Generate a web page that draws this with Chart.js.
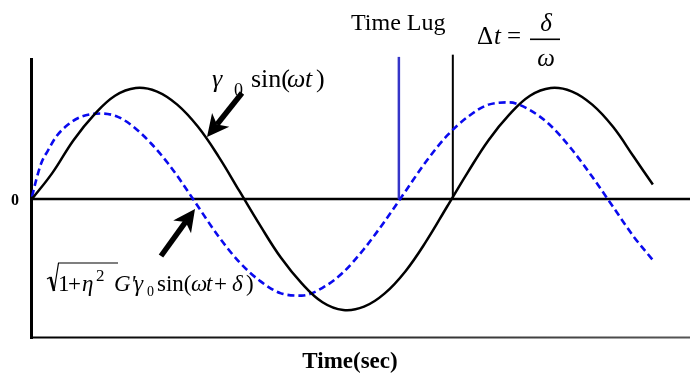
<!DOCTYPE html>
<html>
<head>
<meta charset="utf-8">
<script src="https://cdn.jsdelivr.net/npm/chart.js@4/dist/chart.umd.min.js"></script>
<style>
html,body{margin:0;padding:0;background:#fff;}
#wrap{width:690px;height:377px;position:relative;}
</style>
</head>
<body>
<div id="wrap"><canvas id="c" width="690" height="377"></canvas></div>
<script>
// ---- data (time in arbitrary units, amplitude normalised to γ0 = 1) ----
const strainTimes = [0,0.5,1,1.5,2,2.5,3,3.5,4,4.5,5,5.5,6,6.5,7,7.5,8,8.5,9,9.5,10,10.5,11,11.5,12,12.5,13,13.5,14,14.5,14.96];
const strainValues = [0,0.24,0.53,0.76,0.93,1.00,0.97,0.85,0.65,0.38,0.07,-0.24,-0.53,-0.76,-0.93,-1.00,-0.97,-0.85,-0.65,-0.38,-0.07,0.24,0.53,0.76,0.93,1.00,0.97,0.85,0.65,0.38,0.13];

const stressTimes = [0,0.1,0.22,0.39,0.58,0.87,1.18,1.66,2.07,2.48,2.87,3.28,3.59,3.88,4.5,5,5.5,6,6.5,7,7.5,8,8.5,9,9.5,10,10.5,11,11.5,12,12.5,13,13.5,14,14.5,14.96];
const stressValues = [0.02,0.17,0.32,0.44,0.56,0.67,0.74,0.77,0.74,0.64,0.50,0.32,0.16,0.0,-0.34,-0.57,-0.74,-0.85,-0.87,-0.80,-0.66,-0.45,-0.20,0.07,0.34,0.57,0.74,0.85,0.87,0.80,0.66,0.45,0.20,-0.07,-0.34,-0.55];

// vertical markers of the time lag (zero crossings) and their heights
const lagTimes = [8.84, 10.14];
const lagTops = [1.28, 1.30];

const xRange = [0, 15.855];
const yRange = [-1.252, 1.297];

const xAxisTitle = 'Time(sec)';
const yZeroLabel = '0';
const lagLabel = 'Time Lug';

function pts(xs, ys){ return xs.map((x,i)=>({x:x, y:ys[i]})); }

const SERIF = '"Liberation Serif","DejaVu Serif",serif';

function arrow(ctx, x1, y1, x2, y2){
  const ang = Math.atan2(y2-y1, x2-x1);
  const headLen = 22, headW = 11, notch = 6;
  const bx = x2 - headLen*Math.cos(ang), by = y2 - headLen*Math.sin(ang);
  ctx.save();
  ctx.strokeStyle = '#000';
  ctx.lineWidth = 5.5;
  ctx.beginPath();
  ctx.moveTo(x1, y1);
  ctx.lineTo(bx + notch*Math.cos(ang), by + notch*Math.sin(ang));
  ctx.stroke();
  ctx.fillStyle = '#000';
  ctx.beginPath();
  ctx.moveTo(x2, y2);
  ctx.lineTo(bx + headW*Math.sin(ang), by - headW*Math.cos(ang));
  ctx.lineTo(bx + notch*Math.cos(ang), by + notch*Math.sin(ang));
  ctx.lineTo(bx - headW*Math.sin(ang), by + headW*Math.cos(ang));
  ctx.closePath();
  ctx.fill();
  ctx.restore();
}

function txt(ctx, s, x, y, font){
  ctx.font = font;
  ctx.fillText(s, x, y);
  return x + ctx.measureText(s).width;
}

const decor = {
  id: 'decor',
  beforeDatasetsDraw(chart){
    const ctx = chart.ctx;
    const xs = chart.scales.x, ys = chart.scales.y;
    const x0 = xs.getPixelForValue(0) - 0.5;
    const yTop = 58, yBot = ys.getPixelForValue(yRange[0]);
    const yZero = ys.getPixelForValue(0);
    ctx.save();
    ctx.strokeStyle = '#000';
    ctx.lineWidth = 3;
    ctx.beginPath(); ctx.moveTo(x0, yTop); ctx.lineTo(x0, yBot + 1); ctx.stroke();
    ctx.lineWidth = 2.5;
    ctx.beginPath(); ctx.moveTo(x0, yZero); ctx.lineTo(690, yZero); ctx.stroke();
    const g = ctx.createLinearGradient(x0, 0, 690, 0);
    g.addColorStop(0, '#000'); g.addColorStop(1, '#555');
    ctx.strokeStyle = g;
    ctx.lineWidth = 2;
    ctx.beginPath(); ctx.moveTo(x0, yBot - 0.5); ctx.lineTo(690, yBot - 0.5); ctx.stroke();
    ctx.restore();
  },
  afterDatasetsDraw(chart){
    const ctx = chart.ctx;
    ctx.save();
    ctx.fillStyle = '#000';
    ctx.textBaseline = 'alphabetic';
    ctx.textAlign = 'left';

    txt(ctx, yZeroLabel, 11, 205, 'bold 16px ' + SERIF);

    ctx.textAlign = 'center';
    ctx.font = 'bold 23px ' + SERIF;
    ctx.fillText(xAxisTitle, 350, 368);
    ctx.textAlign = 'left';

    // γ0 sin(ωt)
    const L = '26px ' + SERIF, LI = 'italic 26px ' + SERIF;
    txt(ctx, 'γ', 212, 87, LI);
    txt(ctx, '0', 234, 96, '18px ' + SERIF);
    txt(ctx, 'sin(', 251, 87, L);
    txt(ctx, 'ω', 287, 87, LI);
    txt(ctx, 't', 305, 87, LI);
    txt(ctx, ')', 316, 87, L);

    // Time Lug
    txt(ctx, lagLabel, 351, 30, '24px ' + SERIF);

    // Δt = δ/ω
    txt(ctx, 'Δ', 477, 44, '25px ' + SERIF);
    txt(ctx, 't', 494, 44, 'italic 25px ' + SERIF);
    txt(ctx, '=', 507, 44, '25px ' + SERIF);
    ctx.fillRect(530, 38.5, 30, 1.6);
    ctx.textAlign = 'center';
    txt(ctx, 'δ', 546, 31, 'italic 25px ' + SERIF);
    txt(ctx, 'ω', 546, 66, 'italic 25px ' + SERIF);
    ctx.textAlign = 'left';

    // sqrt(1+η²) G' γ0 sin(ωt+δ)
    ctx.save();
    ctx.strokeStyle = '#000';
    ctx.lineWidth = 1.2;
    ctx.beginPath();
    ctx.moveTo(47, 279); ctx.lineTo(50.5, 277);
    ctx.stroke();
    ctx.lineWidth = 2.6;
    ctx.beginPath();
    ctx.moveTo(50.5, 277); ctx.lineTo(54, 291);
    ctx.stroke();
    ctx.lineWidth = 1.2;
    ctx.beginPath();
    ctx.moveTo(54, 291); ctx.lineTo(58.5, 263); ctx.lineTo(118, 263);
    ctx.stroke();
    ctx.restore();
    const F = '23px ' + SERIF, FI = 'italic 23px ' + SERIF;
    txt(ctx, '1', 58, 291, F);
    txt(ctx, '+', 68, 291, F);
    txt(ctx, 'η', 82, 291, FI);
    txt(ctx, '2', 96, 281, '17px ' + SERIF);
    txt(ctx, "G'", 114, 291, FI);
    txt(ctx, 'γ', 134, 291, FI);
    txt(ctx, '0', 147, 296, '14px ' + SERIF);
    txt(ctx, 'sin(', 157, 291, F);
    txt(ctx, 'ω', 191, 291, FI);
    txt(ctx, 't', 206, 291, FI);
    txt(ctx, '+', 214, 291, F);
    txt(ctx, 'δ', 232, 291, FI);
    txt(ctx, ')', 246, 291, F);

    arrow(ctx, 242, 93, 207, 137);
    arrow(ctx, 161, 256, 195, 209);
    ctx.restore();
  }
};

new Chart(document.getElementById('c'), {
  type: 'line',
  data: {
    datasets: [
      { label: 'strain', data: pts(strainTimes, strainValues), borderColor: '#000', borderWidth: 2.5, pointRadius: 0, tension: 0.4, fill: false, clip: false },
      { label: 'stress', data: pts(stressTimes, stressValues), borderColor: '#0a0aee', borderWidth: 2.6, borderDash: [7,4], pointRadius: 0, cubicInterpolationMode: 'monotone', fill: false, clip: false },
      { label: 'lagStress', data: [{x: lagTimes[0], y: 0}, {x: lagTimes[0], y: lagTops[0]}], borderColor: '#3535c8', borderWidth: 2.5, pointRadius: 0, clip: false },
      { label: 'lagStrain', data: [{x: lagTimes[1], y: 0}, {x: lagTimes[1], y: lagTops[1]}], borderColor: '#000', borderWidth: 2, pointRadius: 0, clip: false }
    ]
  },
  options: {
    responsive: false,
    animation: false,
    layout: { padding: { left: 32, right: 0, top: 55, bottom: 39 } },
    plugins: { legend: { display: false }, tooltip: { enabled: false } },
    scales: {
      x: { type: 'linear', display: false, min: xRange[0], max: xRange[1] },
      y: { type: 'linear', display: false, min: yRange[0], max: yRange[1] }
    }
  },
  plugins: [decor]
});
</script>
</body>
</html>
